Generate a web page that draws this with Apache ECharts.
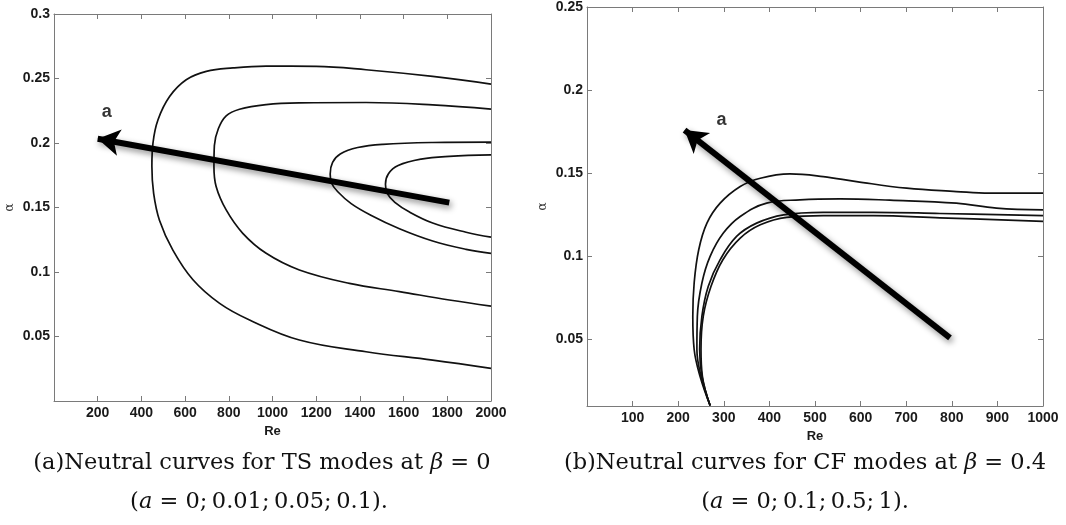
<!DOCTYPE html>
<html>
<head>
<meta charset="utf-8">
<script src="https://cdn.jsdelivr.net/npm/echarts@6/dist/echarts.min.js"></script>
<style>html,body{margin:0;padding:0;background:#fff;}#c{width:1066px;height:525px;}</style>
</head>
<body>
<div id="c"></div>
<script>
// ---------- Panel (a): TS modes, beta = 0 ; [Re, alpha] ----------
const tsA0 = [[2000,0.2457],[1733,0.2516],[1428,0.2568],[1200,0.2594],[971,0.2596],[819,0.2582],[697,0.2555],[605,0.249],[529,0.236],[476,0.218],[453,0.200],[448,0.182],[456,0.161],[483,0.140],[544,0.117],[636,0.094],[758,0.0757],[895,0.0628],[1123,0.0473],[1428,0.0382],[1733,0.0317],[2000,0.0253]];
const tsA001 = [[2000,0.2263],[1733,0.2296],[1428,0.2314],[1123,0.2311],[971,0.2298],[849,0.2262],[788,0.2210],[752,0.2110],[734,0.1980],[732,0.1818],[742,0.1663],[788,0.1481],[864,0.130],[971,0.1145],[1123,0.1016],[1352,0.0912],[1581,0.0848],[1809,0.0783],[2000,0.0736]];
const tsA005 = [[2000,0.2007],[1733,0.2004],[1505,0.1990],[1390,0.1965],[1310,0.1915],[1275,0.1850],[1264,0.176],[1270,0.1690],[1300,0.1620],[1360,0.1530],[1450,0.1440],[1581,0.1335],[1733,0.1240],[1886,0.1176],[2000,0.1145]];
const tsA01 = [[2000,0.1908],[1809,0.1897],[1680,0.1875],[1575,0.1825],[1530,0.1760],[1517,0.168],[1525,0.1610],[1560,0.1540],[1627,0.1465],[1733,0.1380],[1886,0.1308],[2000,0.127]];
const tsArrow = [[1809,0.1538],[200,0.2033]];
const tsArrowLabel = [[241,0.224]];

// ---------- Panel (b): CF modes, beta = 0.4 ; [Re, alpha] ----------
const cfA1 = [[270,0.0103],[248,0.0278],[235,0.044],[232,0.064],[235,0.084],[245,0.104],[263,0.120],[292,0.132],[336,0.142],[380,0.147],[445,0.1496],[518,0.148],[591,0.145],[701,0.141],[810,0.139],[883,0.138],[1000,0.138]];
const cfA05 = [[270,0.0103],[250,0.028],[241,0.044],[242,0.064],[252,0.084],[270,0.100],[299,0.114],[336,0.124],[394,0.132],[467,0.134],[555,0.1346],[664,0.1338],[810,0.132],[898,0.129],[1000,0.128]];
const cfA01 = [[270,0.0103],[252,0.028],[247,0.044],[252,0.064],[266,0.082],[292,0.098],[328,0.112],[372,0.120],[431,0.125],[518,0.1265],[628,0.1265],[774,0.1258],[1000,0.1245]];
const cfA0 = [[270,0.0103],[253,0.028],[250,0.044],[255,0.064],[272,0.082],[298,0.098],[336,0.111],[380,0.119],[438,0.1235],[518,0.1245],[628,0.1245],[774,0.1232],[1000,0.121]];
const cfArrow = [[796,0.051],[214,0.176]];
const cfArrowLabel = [[295,0.182]];

// ---------- Tick values ----------
const tsYTicks = [0.05,0.1,0.15,0.2,0.25,0.3];
const cfYTicks = [0.05,0.1,0.15,0.2,0.25];

const AX = '#7a7a7a';
const LBL = {fontFamily:'Liberation Sans, Arial, sans-serif', fontWeight:'bold', fontSize:14, color:'#1a1a1a'};

function xAxes(grid, max, interval, gap){
  const main = {
    type:'value', gridIndex:grid, min:0, max:max, interval:interval, position:'bottom',
    name:'Re', nameLocation:'middle', nameGap:gap,
    nameTextStyle:{fontFamily:'Liberation Sans, Arial, sans-serif', fontWeight:'bold', fontSize:13, color:'#1a1a1a'},
    axisLine:{show:true, lineStyle:{color:AX, width:1}},
    axisTick:{show:true, inside:true, length:5, lineStyle:{color:AX}},
    axisLabel:Object.assign({show:true, margin:5, showMinLabel:false, formatter:function(v){return String(v);}}, LBL),
    splitLine:{show:false}
  };
  const top = {
    type:'value', gridIndex:grid, min:0, max:max, interval:interval, position:'top',
    axisLine:{show:true, onZero:false, lineStyle:{color:AX, width:1}},
    axisTick:{show:true, inside:true, length:5, lineStyle:{color:AX}},
    axisLabel:{show:false}, splitLine:{show:false}
  };
  return [main, top];
}
function yAxes(grid, min, max, ticks){
  const common = {type:'value', gridIndex:grid, min:min, max:max, splitLine:{show:false}};
  const main = Object.assign({}, common, {
    position:'left', name:'α', nameLocation:'middle', nameGap:38, nameRotate:90,
    nameTextStyle:{fontFamily:'DejaVu Serif, serif', fontSize:12, color:'#333'},
    axisLine:{show:true, onZero:false, lineStyle:{color:AX, width:1}},
    axisTick:{show:true, inside:true, length:5, lineStyle:{color:AX}, customValues:ticks},
    axisLabel:Object.assign({show:true, margin:4, customValues:ticks, formatter:function(v){return String(+v.toFixed(2));}}, LBL)
  });
  const right = Object.assign({}, common, {
    position:'right',
    axisLine:{show:true, onZero:false, lineStyle:{color:AX, width:1}},
    axisTick:{show:true, inside:true, length:5, lineStyle:{color:AX}, customValues:ticks},
    axisLabel:{show:false}
  });
  return [main, right];
}

function curve(data, xi, yi){
  return {type:'line', xAxisIndex:xi, yAxisIndex:yi, data:data, smooth:0.4, showSymbol:false, symbol:'none',
    lineStyle:{color:'#111', width:1.7}, silent:true, animation:false, clip:true};
}
function arrow(pts, lbl, xi, yi){
  return [{
    type:'line', xAxisIndex:xi, yAxisIndex:yi, data:[], silent:true, animation:false,
    markLine:{silent:true, animation:false, symbol:['none','arrow'], symbolSize:[20,22], label:{show:false},
      lineStyle:{color:'#000', width:6, type:'solid', shadowBlur:6, shadowColor:'rgba(0,0,0,0.45)', shadowOffsetX:2, shadowOffsetY:3},
      emphasis:{disabled:true},
      data:[[{coord:pts[0]},{coord:pts[1]}]]}
  },{
    type:'scatter', xAxisIndex:xi, yAxisIndex:yi, data:lbl, symbolSize:1, itemStyle:{color:'rgba(0,0,0,0)'}, silent:true, animation:false,
    label:{show:true, position:'inside', formatter:'a', fontFamily:'Liberation Sans, Arial, sans-serif', fontWeight:'bold', fontSize:18, color:'#000', textBorderWidth:0}
  }];
}

const CAPFONT = '22.5px "DejaVu Serif", serif';
const RICH = {i:{fontStyle:'italic', fontSize:22.5, fontFamily:'DejaVu Serif', fill:'#111'}};
function cap(text, x, y){
  return {type:'text', x:x, y:y, style:{text:text, font:CAPFONT, fill:'#111', align:'center', verticalAlign:'middle', rich:RICH}};
}

const chart = echarts.init(document.getElementById('c'), null, {renderer:'canvas'});
const xs = xAxes(0, 2000, 200, 21).concat(xAxes(1, 1000, 100, 22));
const ys = yAxes(0, 0, 0.3, tsYTicks).concat(yAxes(1, 0.01, 0.25, cfYTicks));
chart.setOption({
  animation:false,
  backgroundColor:'#fff',
  grid:[
    {left:54, top:14, width:437, height:387},
    {left:587, top:7, width:456, height:399}
  ],
  xAxis:xs,
  yAxis:ys,
  series:[
    curve(tsA0,0,0), curve(tsA001,0,0), curve(tsA005,0,0), curve(tsA01,0,0),
    curve(cfA1,2,2), curve(cfA05,2,2), curve(cfA01,2,2), curve(cfA0,2,2)
  ].concat(arrow(tsArrow, tsArrowLabel, 0, 0)).concat(arrow(cfArrow, cfArrowLabel, 2, 2)),
  graphic:[
    cap('(a)Neutral curves for TS modes at {i|β} = 0', 262, 463),
    cap('({i|a} = 0;\u20090.01;\u20090.05;\u20090.1).', 259, 502),
    cap('(b)Neutral curves for CF modes at {i|β} = 0.4', 805, 463),
    cap('({i|a} = 0;\u20090.1;\u20090.5;\u20091).', 805, 502)
  ]
});
</script>
</body>
</html>
